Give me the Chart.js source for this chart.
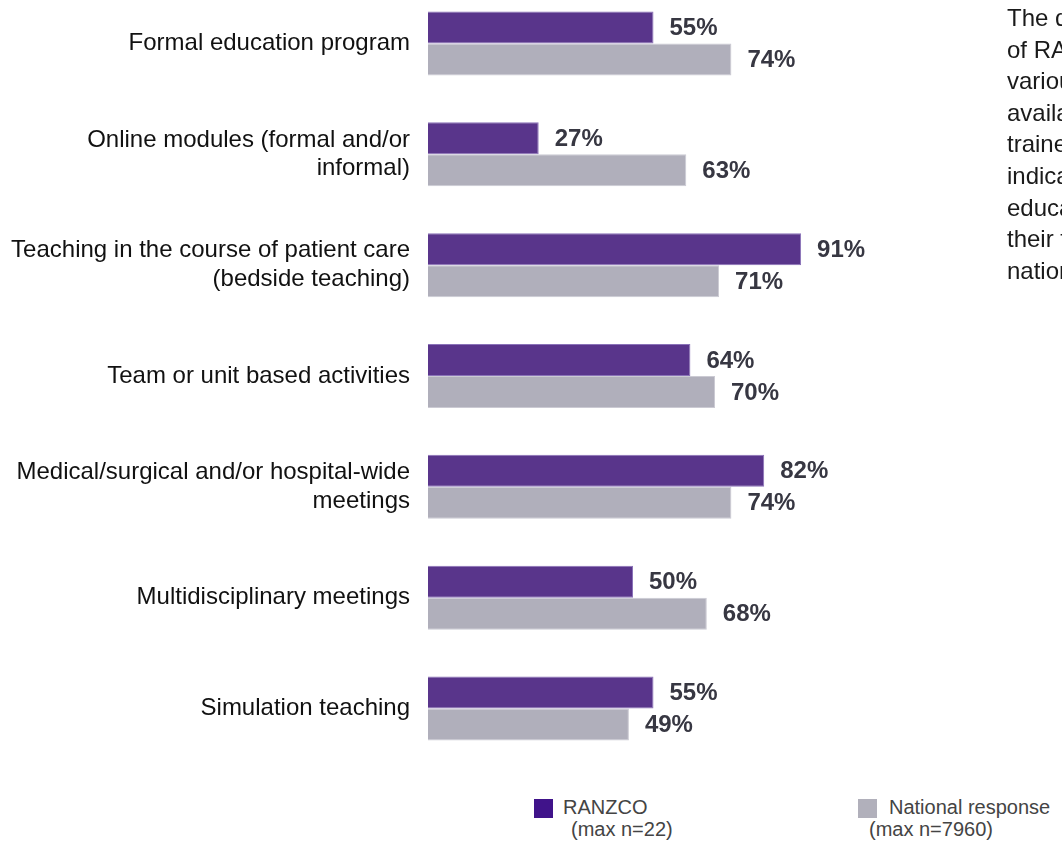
<!DOCTYPE html>
<html>
<head>
<meta charset="utf-8">
<script src="https://cdn.jsdelivr.net/npm/chart.js@4"></script>
<style>
  html, body { margin: 0; padding: 0; background: #fff; overflow: hidden; }
  body { width: 1062px; height: 844px; position: relative; font-family: Arial, "Liberation Sans", sans-serif; }
  #wrap { position: absolute; left: 0; top: -12px; width: 1062px; height: 776px; }
  #side { position: absolute; left: 1007px; top: 2px; font-size: 24px; line-height: 31.6px; color: #1a1a1a; white-space: nowrap; }
  .key { position: absolute; font-size: 20px; line-height: 20px; color: #444; }
  .sw { position: absolute; width: 19px; height: 19px; }
</style>
</head>
<body>
<div id="wrap"><canvas id="bars" width="1062" height="776"></canvas></div>

<div id="side">The data below show how<br>of RANZCO trainees rated the<br>various teaching activities<br>available to them. RANZCO<br>trainees most commonly<br>indicated bedside<br>education as part of<br>their training, above the<br>national average.</div>

<div class="sw" style="left:534px; top:799px; background:#40138a;"></div>
<div class="key" style="left:563px; top:797px;">RANZCO</div>
<div class="key" style="left:571px; top:819px;">(max n=22)</div>

<div class="sw" style="left:858px; top:799px; background:#b1b0bb;"></div>
<div class="key" style="left:889px; top:797px;">National response</div>
<div class="key" style="left:869px; top:819px;">(max n=7960)</div>

<script>
// categories and values (% of respondents)
const categories = [
  "Formal education program",
  ["Online modules (formal and/or", "informal)"],
  ["Teaching in the course of patient care", "(bedside teaching)"],
  "Team or unit based activities",
  ["Medical/surgical and/or hospital-wide", "meetings"],
  "Multidisciplinary meetings",
  "Simulation teaching"
];
const ranzco   = [55, 27, 91, 64, 82, 50, 55];
const national = [74, 63, 71, 70, 74, 68, 49];

// percent text just past the end of each bar
const valueLabels = {
  id: 'valueLabels',
  afterDatasetsDraw(chart) {
    const ctx = chart.ctx;
    ctx.save();
    ctx.font = 'bold 24px Arial, "Liberation Sans", sans-serif';
    ctx.fillStyle = '#373742';
    ctx.textAlign = 'left';
    ctx.textBaseline = 'middle';
    chart.data.datasets.forEach((ds, i) => {
      chart.getDatasetMeta(i).data.forEach((bar, j) => {
        ctx.fillText(ds.data[j] + '%', bar.x + 16, bar.y + 1);
      });
    });
    ctx.restore();
  }
};

const chart = new Chart(document.getElementById('bars').getContext('2d'), {
  type: 'bar',
  data: {
    labels: categories,
    datasets: [{
      label: 'RANZCO',
      data: ranzco,
      backgroundColor: '#59358b',
      borderColor: '#8a72b8',
      borderWidth: 1,
      borderSkipped: 'start'
    },
    {
      label: 'National response',
      data: national,
      backgroundColor: '#b0afbb',
      borderColor: '#cbcad3',
      borderWidth: 1,
      borderSkipped: 'start'
    }]
  },
  options: {
    indexAxis: 'y',
    responsive: false,
    animation: false,
    layout: { padding: { left: 0, right: 224, top: 0, bottom: 0 } },
    datasets: { bar: { categoryPercentage: 0.577, barPercentage: 1 } },
    plugins: {
      legend: { display: false },
      tooltip: { enabled: false }
    },
    scales: {
      x: { min: 0, max: 100, display: false },
      y: {
        grid: { display: false },
        border: { display: false },
        // fixed label column, no extra room above/below the bars
        afterFit: s => {
          s.width = 428;
          s.paddingTop = 0;
          s.paddingBottom = 0;
        },
        ticks: {
          padding: 10,
          color: '#111',
          font: { family: 'Arial, "Liberation Sans", sans-serif', size: 24, lineHeight: 1.2 }
        }
      }
    }
  },
  plugins: [valueLabels]
});
</script>
</body>
</html>
